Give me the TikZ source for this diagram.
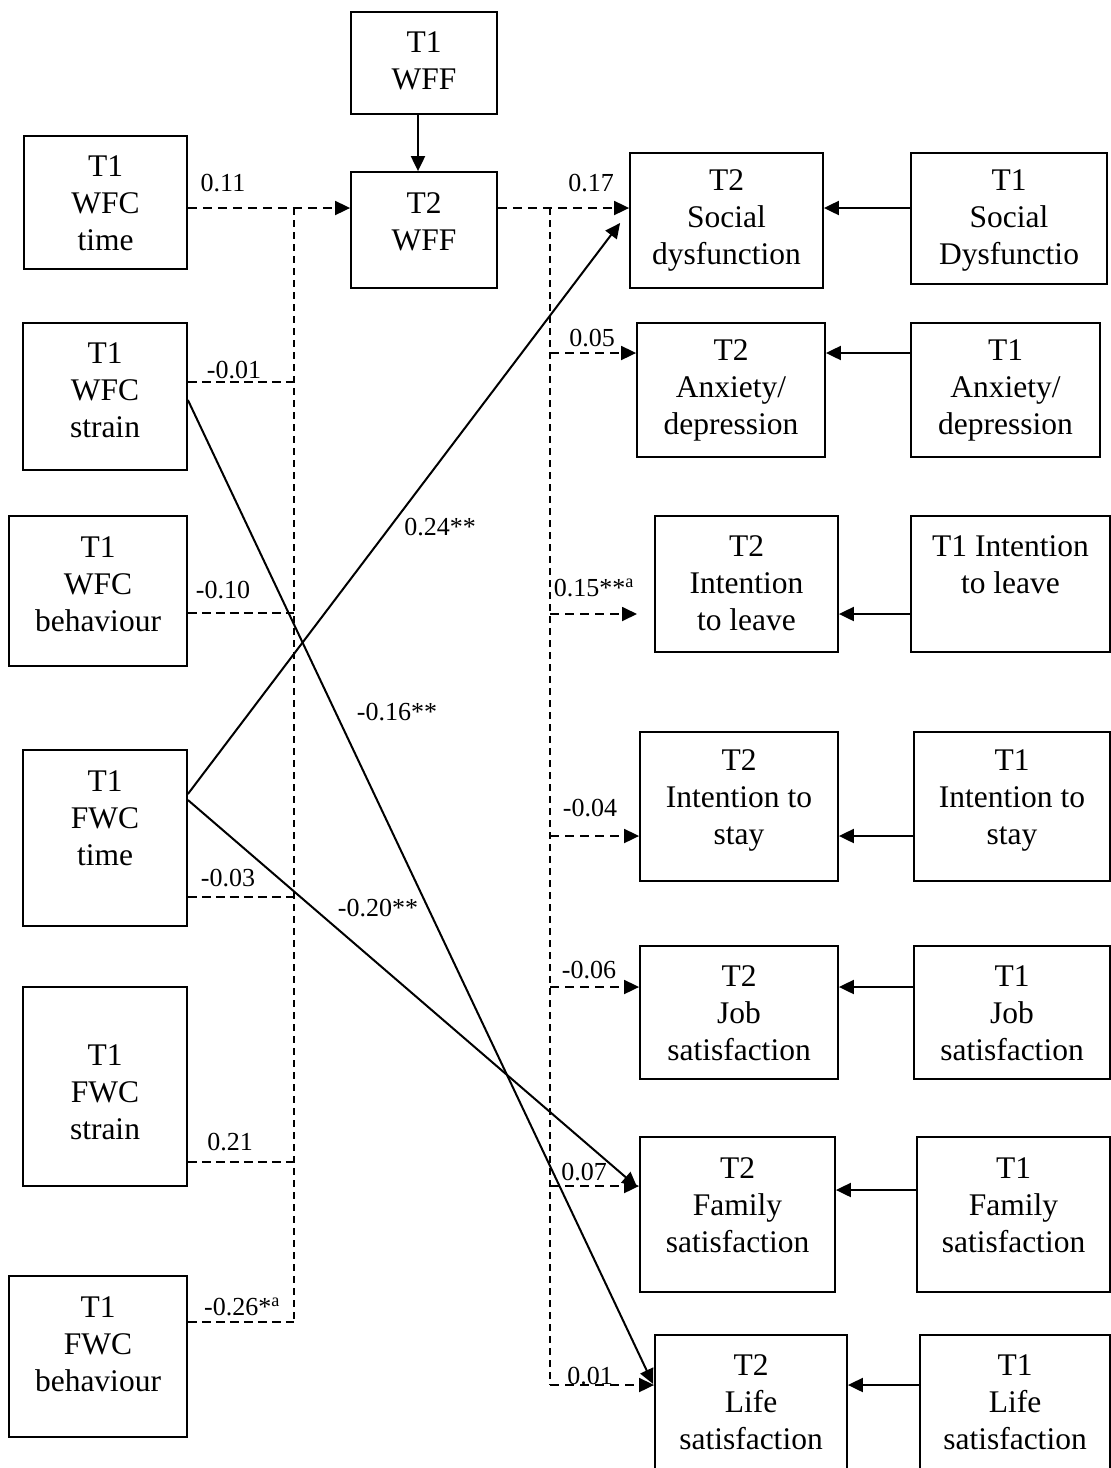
\documentclass[tikz,border=0pt]{standalone}
\usepackage{fontspec}
\setmainfont{Liberation Serif}
\usetikzlibrary{arrows.meta}

% box with separately placed centred caption:
% name, x1, y1, x2, y2, caption centre y, caption
\newcommand{\varbox}[7]{%
  \node[box, minimum width={(#4)-(#2)}, minimum height={(#5)-(#3)}]
    (#1) at ({((#2)+(#4))/2},{((#3)+(#5))/2}) {};
  \node[boxtext] (#1-t) at ({((#2)+(#4))/2},#6) {#7};
}

\tikzset{
  box/.style={draw, rectangle, line width=1.8pt, inner sep=0pt},
  boxtext/.style={align=center, inner sep=0pt, font=\fontsize{31.5}{37}\selectfont},
  lab/.style={inner sep=0pt, text height=17.5pt, text depth=0pt, font=\fontsize{26}{30}\selectfont},
  tip/.style={-{Triangle[length=15pt,width=14pt]}},
  solidarrow/.style={tip, line width=2pt},
  dasharrow/.style={tip, line width=1.8pt, dash pattern=on 9pt off 6pt},
  busline/.style={line width=1.3pt, dash pattern=on 7pt off 5pt},
  feeder/.style={line width=1.6pt, dash pattern=on 9pt off 5pt},
}

\begin{document}
\begin{tikzpicture}[x=1pt, y=-1pt]
  \fill[white] (0,0) rectangle (1111,1468);
  \useasboundingbox (0,0) rectangle (1111,1468);

  % centre column
  \varbox{t1wff}{351}{12}{497}{114}{61}{T1\\WFF}
  \varbox{t2wff}{351}{172}{497}{288}{222}{T2\\WFF}

  % predictors
  \varbox{wfct}{24}{136}{187}{269}{203}{T1\\WFC\\time}
  \varbox{wfcs}{23}{323}{187}{470}{390}{T1\\WFC\\strain}
  \varbox{wfcb}{9}{516}{187}{666}{584}{T1\\WFC\\behaviour}
  \varbox{fwct}{23}{750}{187}{926}{818}{T1\\FWC\\time}
  \varbox{fwcs}{23}{987}{187}{1186}{1092}{T1\\FWC\\strain}
  \varbox{fwcb}{9}{1276}{187}{1437}{1344}{T1\\FWC\\behaviour}

  % T2 outcomes
  \varbox{t2soc}{630}{153}{823}{288}{220}{T2\\Social\\dysfunction}
  \varbox{t2anx}{637}{323}{825}{457}{390}{T2\\Anxiety/\\depression}
  \varbox{t2leave}{655}{516}{838}{652}{583}{T2\\Intention\\to leave}
  \varbox{t2stay}{640}{732}{838}{881}{800}{T2\\Intention to\\stay}
  \varbox{t2job}{640}{946}{838}{1079}{1013}{T2\\Job\\satisfaction}
  \varbox{t2fam}{640}{1137}{835}{1292}{1205}{T2\\Family\\satisfaction}
  \varbox{t2life}{655}{1335}{847}{1472}{1402}{T2\\Life\\satisfaction}

  % T1 outcomes
  \varbox{t1soc}{911}{153}{1107}{284}{220}{T1\\Social\\Dysfunctio}
  \varbox{t1anx}{911}{323}{1100}{457}{390}{T1\\Anxiety/\\depression}
  \varbox{t1leave}{911}{516}{1110}{652}{565}{T1 Intention\\to leave}
  \varbox{t1stay}{914}{732}{1110}{881}{800}{T1\\Intention to\\stay}
  \varbox{t1job}{914}{946}{1110}{1079}{1013}{T1\\Job\\satisfaction}
  \varbox{t1fam}{917}{1137}{1110}{1292}{1205}{T1\\Family\\satisfaction}
  \varbox{t1life}{920}{1335}{1110}{1472}{1402}{T1\\Life\\satisfaction}

  % junctions on the two dashed buses
  \coordinate (lb1) at (294,208);
  \coordinate (lb2) at (294,382);
  \coordinate (lb3) at (294,613);
  \coordinate (lb4) at (294,897);
  \coordinate (lb5) at (294,1162);
  \coordinate (lb6) at (294,1322);
  \coordinate (rb1) at (550,208);
  \coordinate (rb2) at (550,353);
  \coordinate (rb3) at (550,614);
  \coordinate (rb4) at (550,836);
  \coordinate (rb5) at (550,987);
  \coordinate (rb6) at (550,1186);
  \coordinate (rb7) at (550,1385);
  \coordinate (leavetip) at (637,614);

  % stability path of WFF
  \draw[solidarrow] ([xshift=-6pt]t1wff.south) -- ([xshift=-6pt]t2wff.north);

  % predictors to T2 WFF
  \draw[dasharrow] (wfct.east |- lb1) -- (t2wff.west |- lb1);
  \draw[busline] (lb1) -- (lb6);
  \draw[feeder] (wfcs.east |- lb2) -- (lb2);
  \draw[feeder] (wfcb.east |- lb3) -- (lb3);
  \draw[feeder] (fwct.east |- lb4) -- (lb4);
  \draw[feeder] (fwcs.east |- lb5) -- (lb5);
  \draw[feeder] (fwcb.east |- lb6) -- (lb6);

  % T2 WFF to outcomes
  \draw[dasharrow] (t2wff.east |- rb1) -- (t2soc.west |- rb1);
  \draw[busline] (rb1) -- (rb7);
  \draw[dasharrow] (rb2) -- (t2anx.west |- rb2);
  \draw[dasharrow] (rb3) -- (leavetip);
  \draw[dasharrow] (rb4) -- (t2stay.west |- rb4);
  \draw[dasharrow] (rb5) -- (t2job.west |- rb5);
  \draw[dasharrow] (rb6) -- (t2fam.west |- rb6);
  \draw[dasharrow] (rb7) -- (t2life.west |- rb7);

  % autoregressive paths
  \draw[solidarrow] (t1soc.west |- rb1) -- (t2soc.east |- rb1);
  \draw[solidarrow] (t1anx.west |- rb2) -- (t2anx.east |- rb2);
  \draw[solidarrow] (t1leave.west |- rb3) -- (t2leave.east |- rb3);
  \draw[solidarrow] (t1stay.west |- rb4) -- (t2stay.east |- rb4);
  \draw[solidarrow] (t1job.west |- rb5) -- (t2job.east |- rb5);
  \draw[solidarrow] ([yshift=-4pt]t1fam.west |- rb6) -- ([yshift=-4pt]t2fam.east |- rb6);
  \draw[solidarrow] (t1life.west |- rb7) -- (t2life.east |- rb7);

  % direct cross paths
  \draw[solidarrow] ([yshift=44pt]fwct.east) -- ([shift={(-9,2.5)}]t2soc.west);
  \draw[solidarrow] ([yshift=38pt]fwct.east) -- ([shift={(-2,-27.5)}]t2fam.west);
  \draw[solidarrow] ([yshift=-3.5pt]wfcs.east) -- ([shift={(-1,-19.5)}]t2life.west);

  % coefficients
  \node[lab] (c1) at (223,183) {0.11};
  \node[lab] (c2) at (234,370) {-0.01};
  \node[lab] (c3) at (223,590) {-0.10};
  \node[lab] (c4) at (228,878) {-0.03};
  \node[lab] (c5) at (230,1142) {0.21};
  \node[lab] (c6) at (242,1307) {-0.26*\textsuperscript{a}};
  \node[lab] (c7) at (591,183) {0.17};
  \node[lab] (c8) at (592,338) {0.05};
  \node[lab] (c9) at (594,588) {0.15**\textsuperscript{a}};
  \node[lab] (c10) at (590,808) {-0.04};
  \node[lab] (c11) at (589,970) {-0.06};
  \node[lab] (c12) at (584,1172) {0.07};
  \node[lab] (c13) at (590,1376) {0.01};
  \node[lab] (c14) at (440,527) {0.24**};
  \node[lab] (c15) at (397,712) {-0.16**};
  \node[lab] (c16) at (378,908) {-0.20**};
\end{tikzpicture}
\end{document}
